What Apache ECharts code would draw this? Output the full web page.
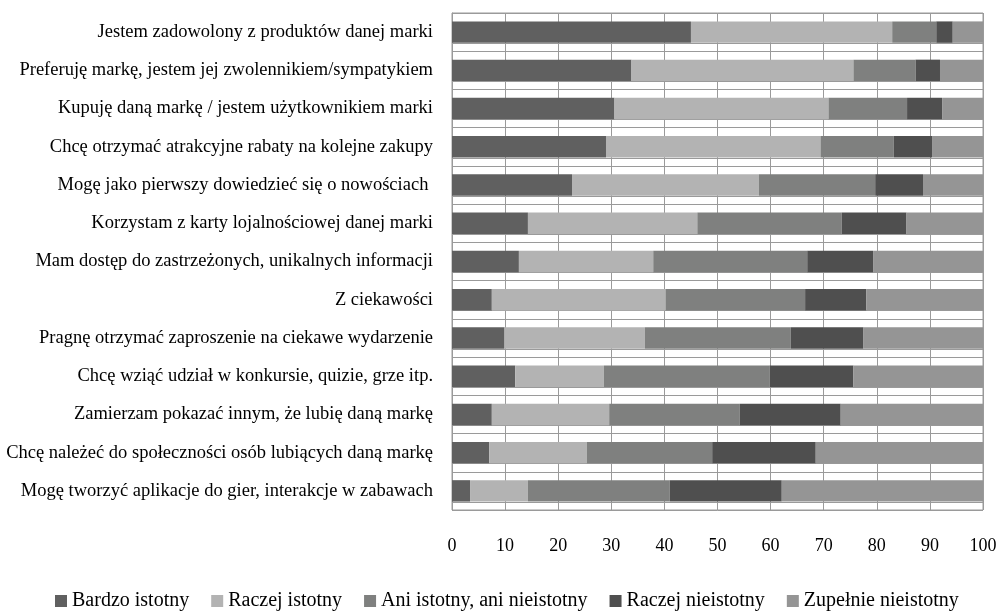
<!DOCTYPE html>
<html>
<head>
<meta charset="utf-8">
<script src="https://cdn.jsdelivr.net/npm/echarts@6/dist/echarts.min.js"></script>
<style>
  html, body { margin: 0; padding: 0; background: #fff; }
  #chart { width: 1001px; height: 612px; }
</style>
</head>
<body>
<div id="chart"></div>
<script>
// Reasons for following a brand, share of answers (%) per importance level
const categories = [
  'Jestem zadowolony z produktów danej marki',
  'Preferuję markę, jestem jej zwolennikiem/sympatykiem',
  'Kupuję daną markę / jestem użytkownikiem marki',
  'Chcę otrzymać atrakcyjne rabaty na kolejne zakupy',
  'Mogę jako pierwszy dowiedzieć się o nowościach ',
  'Korzystam z karty lojalnościowej danej marki',
  'Mam dostęp do zastrzeżonych, unikalnych informacji',
  'Z ciekawości',
  'Pragnę otrzymać zaproszenie na ciekawe wydarzenie',
  'Chcę wziąć udział w konkursie, quizie, grze itp.',
  'Zamierzam pokazać innym, że lubię daną markę',
  'Chcę należeć do społeczności osób lubiących daną markę',
  'Mogę tworzyć aplikacje do gier, interakcje w zabawach'
];

const seriesNames = [
  'Bardzo istotny',
  'Raczej istotny',
  'Ani istotny, ani nieistotny',
  'Raczej nieistotny',
  'Zupełnie nieistotny'
];

const bardzoIstotny     = [45.0, 33.8, 30.6, 29.0, 22.6, 14.3, 12.6, 7.5, 9.9, 11.9, 7.5, 7.0, 3.4];
const raczejIstotny     = [37.9, 41.8, 40.3, 40.4, 35.2, 31.9, 25.3, 32.7, 26.4, 16.7, 22.1, 18.4, 10.9];
const aniAni            = [8.3, 11.7, 14.8, 13.8, 21.9, 27.2, 29.0, 26.3, 27.5, 31.2, 24.6, 23.6, 26.7];
const raczejNieistotny  = [3.1, 4.6, 6.6, 7.2, 9.0, 12.2, 12.4, 11.5, 13.7, 15.8, 19.0, 19.5, 21.1];
const zupelnieNieistotny = [5.7, 8.1, 7.7, 9.6, 11.3, 14.4, 20.7, 22.0, 22.5, 24.4, 26.8, 31.5, 37.9];

const xTicks = { min: 0, max: 100, interval: 10 };

const colors = ['#606060', '#b3b3b3', '#7f807f', '#4f4f4f', '#959595'];
const gridColor = '#9a9a9a';
const FONT = '"Liberation Serif", "Times New Roman", serif';

const values = [bardzoIstotny, raczejIstotny, aniAni, raczejNieistotny, zupelnieNieistotny];
const BAR_RATIO = 0.56;

const barSeries = seriesNames.map((name, i) => ({
  name: name,
  type: 'bar',
  stack: 'total',
  barWidth: (BAR_RATIO * 100) + '%',
  itemStyle: { color: colors[i] },
  emphasis: { disabled: true },
  z: 3,
  data: values[i]
}));

// thin rule along the lower edge of every bar band
const edgeSeries = {
  type: 'custom',
  name: 'edge',
  silent: true,
  z: 1,
  data: categories.map((c, i) => [0, i]),
  encode: { x: 0, y: 1 },
  renderItem: function (params, api) {
    const i = params.dataIndex;
    const a = api.coord([xTicks.min, i]);
    const b = api.coord([xTicks.max, i]);
    const band = api.size([0, 1])[1];
    const y = Math.round(a[1] + band * BAR_RATIO / 2) + 0.5;
    return {
      type: 'line',
      shape: { x1: a[0], y1: y, x2: b[0], y2: y },
      style: { stroke: gridColor, lineWidth: 1 }
    };
  }
};

const chart = echarts.init(document.getElementById('chart'), null, { renderer: 'canvas' });
chart.setOption({
  animation: false,
  backgroundColor: '#ffffff',
  textStyle: { fontFamily: FONT },
  grid: {
    left: 452, right: 18, top: 13, bottom: 102,
    show: true, borderColor: gridColor, borderWidth: 1, backgroundColor: 'transparent'
  },
  legend: {
    data: seriesNames,
    top: 591,
    left: 55,
    padding: 0,
    icon: 'rect',
    itemWidth: 12,
    itemHeight: 12,
    itemGap: 22,
    selectedMode: false,
    textStyle: { fontFamily: FONT, fontSize: 20, color: '#000' }
  },
  xAxis: {
    type: 'value',
    min: xTicks.min,
    max: xTicks.max,
    interval: xTicks.interval,
    axisLine: { show: false },
    axisTick: { show: false },
    splitLine: { show: true, lineStyle: { color: gridColor, width: 1 } },
    axisLabel: { fontFamily: FONT, fontSize: 18, color: '#000', margin: 27 }
  },
  yAxis: {
    type: 'category',
    inverse: true,
    data: categories,
    axisLine: { show: true, lineStyle: { color: gridColor, width: 1 } },
    axisTick: { show: false },
    splitLine: { show: true, lineStyle: { color: gridColor, width: 1 } },
    axisLabel: { fontFamily: FONT, fontSize: 18.5, color: '#000', margin: 19 }
  },
  series: [edgeSeries].concat(barSeries)
});
</script>
</body>
</html>
